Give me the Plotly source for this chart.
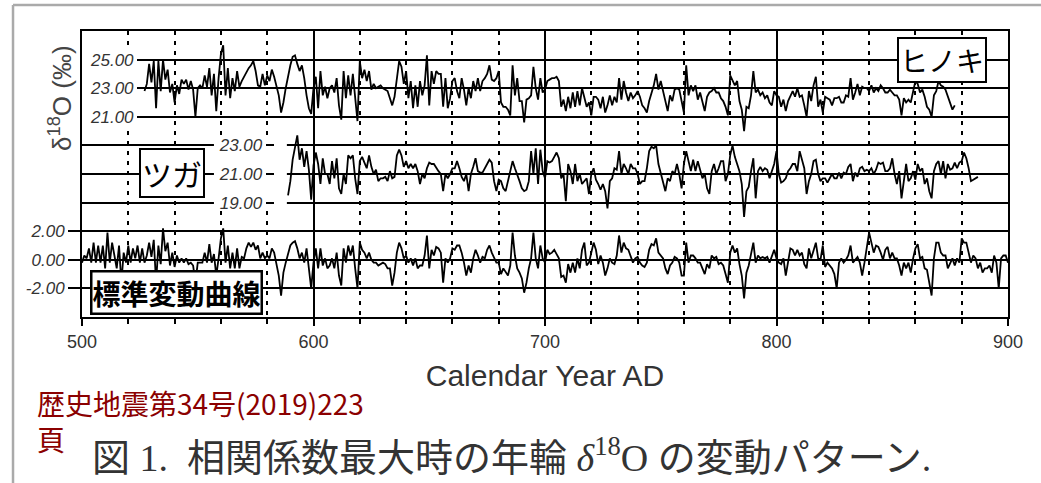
import plotly.graph_objects as go

# ---------------- data ----------------
HINOKI_START = 527
hinoki = [
    22.8, 23.3, 24.7, 23.4, 24.9, 21.6, 24.9, 22.8, 25.0, 23.6, 24.3, 22.7, 23.3, 22.0, 23.2, 22.6,
    23.6, 23.3, 23.6, 22.9, 23.5, 22.9, 21.0, 23.0, 23.2,
    23.0, 23.9, 23.1, 24.4, 22.5, 24.0, 21.4, 23.7, 25.4, 26.0, 22.5, 24.4, 22.3, 23.7, 22.8, 24.2,
    23.1, 23.5, 23.8, 24.2, 24.4, 24.6, 24.9, 24.2, 23.2, 23.1, 24.0, 23.2, 23.9, 23.5, 24.3, 23.8,
    23.2, 22.5, 21.3, 22.0, 23.0, 23.9, 24.6, 25.2, 25.3, 24.7, 24.2, 24.6, 23.7, 22.5, 21.6, 21.2, 23.0,
    23.8, 21.6, 24.2, 22.5, 23.1, 22.3, 23.0, 23.2, 22.7, 23.7,
    21.8, 20.8, 24.2, 22.3, 23.9, 22.5, 24.0, 22.5, 20.7, 24.9,
    23.7, 24.3, 23.5, 24.2, 22.9, 23.3, 23.0, 23.1, 23.2, 23.0,
    22.9, 22.8, 22.3, 21.8, 22.4, 23.7, 24.9, 24.5, 23.3, 24.2,
    22.3, 23.5, 21.6, 23.2, 21.7, 23.5, 22.5, 23.2, 25.3, 21.8,
    24.2, 23.3, 24.2, 24.0, 24.0, 21.7, 23.7, 21.6, 22.3, 23.5,
    23.7, 22.8, 22.3, 23.7, 22.9, 21.8, 23.0, 22.3, 23.5, 22.8,
    23.7, 22.8, 23.5, 23.7, 24.0, 24.6, 23.6, 23.5, 23.7, 24.2,
    22.0, 21.7, 21.7, 21.5, 21.1, 24.6, 22.5, 23.7, 22.1, 22.1,
    20.6, 22.2, 22.3, 22.5, 24.5, 23.0, 22.2, 23.7, 22.7, 22.9,
    23.5, 23.6, 23.7, 23.7, 23.8, 23.5, 21.7, 22.2, 21.4, 22.4,
    21.6, 22.7, 21.7, 22.8, 21.8, 23.0, 22.3, 21.7, 22.0, 21.1,
    22.4, 22.4, 22.2, 21.6, 22.4, 21.3, 21.8, 22.5, 21.8, 22.4,
    22.0, 23.7, 22.2, 23.5, 22.7, 22.1, 22.7, 22.3, 22.5, 22.8,
    22.4, 21.8, 21.6, 21.3, 22.1, 22.7, 23.2, 24.0, 22.9, 23.5,
    22.8, 22.0, 21.4, 22.5, 22.1, 22.9, 23.0, 22.9, 22.2, 21.3,
    24.6, 22.5, 23.2, 22.8, 23.2, 22.2, 22.7, 22.0, 21.4, 22.4,
    22.7, 22.8, 23.0, 22.7, 22.7, 22.3, 22.1, 21.7, 21.1, 23.9,
    23.5, 23.2, 23.5, 22.1, 21.5, 20.0, 21.7, 21.6, 22.5, 24.2,
    22.7, 22.9, 22.5, 22.7, 22.3, 22.5, 22.0, 21.8, 22.8, 22.5,
    22.4, 21.7, 22.2, 21.4, 22.1, 22.5, 22.8, 22.4, 23.0, 22.4,
    22.5, 21.8, 21.0, 22.8, 22.1, 23.2, 23.8, 21.7, 22.2, 21.3,
    22.4, 22.3, 22.2, 21.8, 22.3, 22.3, 22.4, 22.0, 22.0, 22.5,
    22.4, 23.7, 22.2, 22.7, 23.3, 22.5, 23.1, 23.0, 23.0, 22.8,
    23.2, 22.7, 23.0, 22.8, 23.2, 23.0, 22.7, 22.7, 22.9, 22.7,
    22.5, 22.5, 22.2, 21.1, 22.3, 22.0, 22.2, 22.0, 22.8, 23.5,
    23.3, 22.7, 22.9, 22.4, 21.7, 21.5, 21.0, 22.5, 22.8, 23.5,
    23.2, 23.1, 22.9, 22.4, 22.0, 21.5, 21.8,
]

TSUGA_START = 589
tsuga = [
    19.5, 20.5, 22.0, 23.0, 23.7, 22.0, 22.8, 21.5, 22.6, 21.3, 19.2, 21.6,
    22.5, 21.7, 20.3, 22.1, 21.0, 21.0, 20.3, 21.9, 20.7, 22.1,
    20.0, 19.6, 21.0, 20.3, 22.3, 22.1, 22.3, 20.7, 19.6, 21.9,
    22.2, 21.8, 21.4, 22.3, 21.5, 21.0, 21.3, 20.5, 20.7, 20.7,
    20.8, 20.5, 21.2, 20.7, 20.8, 22.3, 22.7, 22.3, 21.5, 21.9,
    21.4, 21.7, 21.4, 21.7, 21.2, 20.3, 21.0, 20.7, 21.4, 21.8,
    21.7, 21.7, 21.4, 21.2, 21.0, 19.8, 21.0, 20.7, 21.0, 21.4,
    21.4, 21.9, 21.4, 20.8, 20.5, 21.0, 19.8, 21.0, 21.5, 22.1,
    21.2, 21.1, 21.1, 21.4, 21.7, 22.0, 21.8, 20.5, 19.8, 20.6,
    20.5, 20.0, 19.8, 20.5, 21.0, 21.9, 21.4, 21.0, 20.5, 20.0,
    19.8, 19.9, 20.5, 22.6, 21.0, 22.8, 20.3, 22.7, 21.2, 20.7,
    21.9, 21.8, 21.9, 22.2, 22.5, 22.1, 20.7, 21.0, 19.1, 21.7,
    21.2, 20.3, 21.7, 20.5, 21.0, 20.3, 20.5, 20.7, 19.6, 21.0,
    21.4, 20.6, 20.3, 19.9, 20.3, 19.8, 18.6, 20.5, 20.7, 21.4,
    21.3, 22.6, 21.0, 21.7, 21.4, 21.0, 21.7, 21.4, 21.4, 21.0,
    20.3, 20.5, 20.5, 21.4, 22.6, 22.9, 22.8, 23.0, 21.7, 21.0,
    20.3, 19.8, 20.7, 20.5, 21.2, 21.0, 21.7, 21.0, 20.0, 21.7,
    22.6, 21.9, 21.2, 22.0, 21.2, 21.9, 21.2, 20.7, 21.0, 20.0,
    19.6, 21.2, 21.7, 21.0, 21.4, 21.9, 21.9, 20.5, 21.0, 22.3,
    23.0, 22.2, 21.7, 21.2, 20.3, 18.0, 19.8, 20.1, 21.2, 22.1,
    19.3, 21.2, 21.5, 21.2, 21.4, 21.3, 20.7, 21.2, 21.7, 22.6,
    21.0, 20.4, 20.5, 20.7, 21.2, 21.4, 21.7, 21.7, 21.2, 22.6,
    22.0, 21.4, 19.6, 20.5, 21.0, 21.9, 22.0, 21.0, 20.5, 20.7,
    20.7, 20.4, 20.7, 21.0, 20.7, 20.7, 21.1, 20.7, 21.1, 21.0,
    21.5, 21.7, 20.5, 21.1, 20.8, 21.4, 21.5, 21.2, 21.3, 21.2,
    21.4, 21.0, 21.3, 21.8, 21.7, 21.8, 21.2, 21.2, 21.4, 22.1,
    21.0, 20.3, 21.2, 19.3, 20.5, 21.7, 20.5, 20.7, 21.2, 20.6,
    21.7, 21.2, 21.4, 20.3, 20.7, 19.8, 19.3, 21.2, 21.7, 21.9,
    21.0, 21.9, 20.7, 21.7, 21.3, 21.4, 21.8, 21.4, 21.8, 21.9,
    22.5, 22.1, 21.4, 20.5, 20.6, 20.7, 20.8,
]

STANDARD_START = 500
standard = [
    -0.2, 0.3, 0.1, 0.8, -0.2, 1.2, -0.2, 1.0, -0.2, 1.0,
    -0.6, 1.9, -0.2, 1.2, 0.3, -0.6, 1.0, -1.6, 0.5, -0.2,
    1.0, -0.2, 0.8, 0.1, 1.0, -0.2, 0.8, -0.2, 0.3, 1.2,
    0.2, 1.4, -1.6, 1.0, -0.3, 2.2, 0.6, 1.2, -0.4, 0.5,
    -0.5, 0.3, -0.2, 0.1, -0.2, 0.1, -0.3, -0.2, -0.4, -1.6,
    -0.2,
    -0.2, -0.2, 0.5, -0.2, 1.1, -0.2, 0.4, -1.1, 0.1, 1.5,
    2.2, -0.2, 1.0, -0.6, 0.5, -0.6, 0.8, -0.6, 0.2, 0.1,
    0.8, 1.2, 0.9, 1.2, 0.7, 1.0, 0.1, 0.5, 0.1, 0.3,
    0.1, 0.8, 0.5, -0.4, -1.1, -2.5, -0.9, -0.2, 0.5, 1.0,
    1.2, 1.3, 0.8, 0.1, 0.5, -0.2, 0.8, -0.6, -2.0, -0.2,
    0.8, -0.6, 0.8, -0.4, 0.1, -0.6, -0.4, 0.1, -0.6, 0.5,
    -1.1, -1.8, 0.8, -0.2, 1.0, 0.3, 1.0, -0.6, -2.0, 1.2,
    0.7, 0.5, 0.1, 0.5, 0.0, -0.2, -0.2, -0.4, -0.3, -0.2,
    -0.3, -0.6, -0.6, -1.8, -0.9, 0.5, 1.2, 0.8, 0.1, 0.3,
    -0.2, 0.1, -0.4, 0.1, -0.6, -0.4, -0.4, 0.3, 1.7, -0.6,
    0.7, 0.3, 0.9, 0.8, 0.5, -1.6, 0.1, -0.2, 0.1, 0.8,
    0.7, 1.0, 1.0, 0.5, -0.2, -1.1, -0.4, -0.9, 0.1, 0.7,
    0.3, -0.2, 0.2, 0.1, 0.7, 1.0, 0.5, 0.1, -0.2, -0.2,
    -1.0, -0.6, -0.9, -1.1, -0.4, 1.9, 0.3, -0.6, -0.9, -1.3,
    -2.3, -1.6, -0.6, 0.1, 1.9, 0.1, -0.6, 1.0, 0.1, -0.2,
    0.7, 0.4, 0.5, 0.7, 0.4, 0.1, -1.2, -1.1, -1.6, -0.3,
    -0.9, -0.2, -0.9, 0.1, -0.6, 0.7, 1.2, -0.4, -0.2, 0.5,
    1.2, 0.7, -0.3, 0.3, -0.2, -1.1, -0.6, 0.1, -0.2, -0.3,
    0.3, 1.7, 0.5, 1.2, 0.8, 0.7, 0.3, -0.2, 0.1, 0.2,
    -0.2, -0.4, -0.5, -0.2, 0.7, 1.1, 1.0, 1.5, 0.5, 0.3,
    0.1, -0.6, -1.0, -0.4, -0.2, 0.2, 0.1, -0.2, -1.1, -1.1,
    1.2, -0.2, 0.3, 0.3, 0.1, -0.2, -0.2, -0.6, -1.0, -0.3,
    -0.6, 0.3, 0.1, 0.2, -0.3, -0.2, -0.4, -1.0, -1.6, 0.5,
    1.0, 0.5, 0.8, -0.3, -1.1, -2.7, -0.9, -0.4, 0.5, 1.2,
    -0.2, 0.3, 0.1, 0.2, 0.1, 0.2, -0.2, 0.2, 0.7, 0.1,
    -0.2, -0.3, 0.1, -1.1, 0.0, 0.8, 0.7, 0.3, 0.7, 0.3,
    0.5, -0.3, -0.6, 0.8, 0.1, 0.7, 1.2, 0.1, 0.0, 1.0,
    -0.5, -0.2, -0.4, -0.6, -1.0, -2.0, -0.2, 0.1, -0.2, 0.0,
    0.3, 1.0, -0.2, 0.0, 0.2, -0.2, -1.1, -0.2, 1.0, 1.9,
    1.2, 0.5, 1.0, 0.9, 0.5, 0.0, 0.7, 0.9, 0.1, 0.5,
    0.1, 0.1, -0.4, -1.1, -0.2, -0.6, -0.2, -0.9, 0.1, 0.8,
    1.1, 0.1, 0.2, -0.6, -0.7, -1.6, -2.5, 0.1, 1.2, 1.2,
    0.5, 0.3, 0.3, -0.6, -0.2, 0.1, -0.4, 0.1, -0.2, 1.5,
    1.2, 1.2, 0.5, -0.2, 0.3, 0.1, -0.6, -0.2, -0.9, -0.6,
    -0.6, -0.4, -0.9, 0.3, -0.2, -2.0, 0.1, 0.3, 0.3, -0.2,
]

hinoki_years = list(range(HINOKI_START, HINOKI_START + len(hinoki)))
tsuga_years = list(range(TSUGA_START, TSUGA_START + len(tsuga)))
standard_years = list(range(STANDARD_START, STANDARD_START + len(standard)))

x_ticks = [500, 600, 700, 800, 900]
std_ticks = [-2, 0, 2]
std_ticktext = ["-2.00", "0.00", "2.00"]
tsuga_ticks = [19, 21, 23]
tsuga_ticktext = ["19.00", "21.00", "23.00"]
hinoki_ticks = [21, 23, 25]
hinoki_ticktext = ["21.00", "23.00", "25.00"]

# ---------------- figure ----------------
LINE = dict(color="black", width=1.8)
fig = go.Figure()
fig.add_trace(go.Scatter(x=standard_years, y=standard, yaxis="y", mode="lines", line=LINE, showlegend=False))
fig.add_trace(go.Scatter(x=tsuga_years, y=tsuga, yaxis="y2", mode="lines", line=LINE, showlegend=False))
fig.add_trace(go.Scatter(x=hinoki_years, y=hinoki, yaxis="y3", mode="lines", line=LINE, showlegend=False))

SANS = "Liberation Sans, Arial, sans-serif"
NARROW = "Liberation Sans Narrow, Liberation Sans, Arial, sans-serif"
TICKFONT = dict(family=SANS, size=17, color="#333", style="italic")
GRID = dict(showgrid=True, gridcolor="black", gridwidth=1.5, zeroline=False)

fig.update_layout(
    width=1041, height=483, autosize=False,
    margin=dict(l=82, r=33, t=31, b=166),
    paper_bgcolor="white", plot_bgcolor="white",
    xaxis=dict(
        range=[500, 900], tickvals=x_ticks, ticks="outside", ticklen=7, tickwidth=1.5, tickcolor="black",
        showline=True, linecolor="black", linewidth=2, mirror=True,
        tickfont=dict(family=NARROW, size=18, color="#333"),
        title=dict(text="Calendar Year AD", standoff=14,
                   font=dict(family=NARROW, size=30, color="#333")),
        minor=dict(dtick=20, tick0=500, ticks="outside", ticklen=5, tickcolor="black",
                   showgrid=True, gridcolor="black", gridwidth=1.5, griddash="4px,6px"),
        **GRID,
    ),
    yaxis=dict(
        range=[-4, 16], tickvals=std_ticks, ticktext=std_ticktext, ticks="outside", ticklen=12,
        tickwidth=1.5, tickcolor="black", tickfont=TICKFONT,
        showline=True, linecolor="black", linewidth=2, mirror=True, **GRID,
    ),
    yaxis2=dict(
        range=[11, 31], overlaying="y", anchor="free", position=0.207, side="left",
        tickvals=tsuga_ticks, ticktext=tsuga_ticktext, ticks="outside", ticklen=8,
        tickwidth=1.5, tickcolor="black", tickfont=TICKFONT, showline=False, **GRID,
    ),
    yaxis3=dict(
        range=[7, 27], overlaying="y", anchor="free", position=0.068, side="left",
        tickvals=hinoki_ticks, ticktext=hinoki_ticktext, ticks="outside", ticklen=8,
        tickwidth=1.5, tickcolor="black", tickfont=TICKFONT, showline=False, **GRID,
    ),
)

# white masks behind the inner tick-label columns (in main-axis units)
fig.add_shape(type="rect", xref="x", yref="y", x0=500, x1=526.5, y0=9.4, y1=14.6,
              fillcolor="white", line=dict(width=0), layer="between")
fig.add_shape(type="rect", xref="x", yref="y", x0=557, x1=588.5, y0=3.5, y1=8.5,
              fillcolor="white", line=dict(width=0), layer="between")

# outer grey frame of the scanned page
fig.add_shape(type="line", xref="paper", yref="paper", x0=-0.0745, x1=1.2, y0=1.0909, y1=1.0909,
              line=dict(color="#aaaaaa", width=2.5))
fig.add_shape(type="line", xref="paper", yref="paper", x0=-0.0745, x1=-0.0745, y0=1.0909, y1=-0.7,
              line=dict(color="#aaaaaa", width=2.5))

JP = "Noto Sans CJK JP, sans-serif"
box = dict(showarrow=False, bgcolor="white", bordercolor="black")
fig.add_annotation(x=539, y=21.1, xref="x", yref="y2", text="ツガ",
                   font=dict(family=JP, size=30, color="black"), borderwidth=2, borderpad=1, **box)
fig.add_annotation(x=871.5, y=25.0, xref="x", yref="y3", text="ヒノキ",
                   font=dict(family=JP, size=28, color="black"), borderwidth=2, borderpad=1, **box)
fig.add_annotation(x=541, y=-2.3, xref="x", yref="y", text="<b>標準変動曲線</b>",
                   font=dict(family=JP, size=28, color="black"), borderwidth=2.5, borderpad=0, **box)

fig.add_annotation(x=-0.043, y=0.765, xref="paper", yref="paper", yanchor="middle",
                   text="δ<sup>18</sup>O (‰)",
                   textangle=-90, showarrow=False,
                   font=dict(family=SANS, size=26, color="#444"))

fig.add_annotation(x=-0.0508, y=-0.3007, xref="paper", yref="paper", xanchor="left", yanchor="middle",
                   text="歴史地震第34号(2019)223", showarrow=False,
                   font=dict(family=JP, size=28, color="#8b0000"))
fig.add_annotation(x=-0.0508, y=-0.4266, xref="paper", yref="paper", xanchor="left", yanchor="middle",
                   text="頁", showarrow=False,
                   font=dict(family=JP, size=28, color="#8b0000"))
fig.add_annotation(x=0.0086, y=-0.4825, xref="paper", yref="paper", xanchor="left", yanchor="middle",
                   text="図 1.  相関係数最大時の年輪 <i>δ</i><sup>18</sup>O の変動パターン.", showarrow=False,
                   font=dict(family="Liberation Serif, Noto Sans CJK JP, serif", size=38, color="#333"))

fig.write_html("out.html")
